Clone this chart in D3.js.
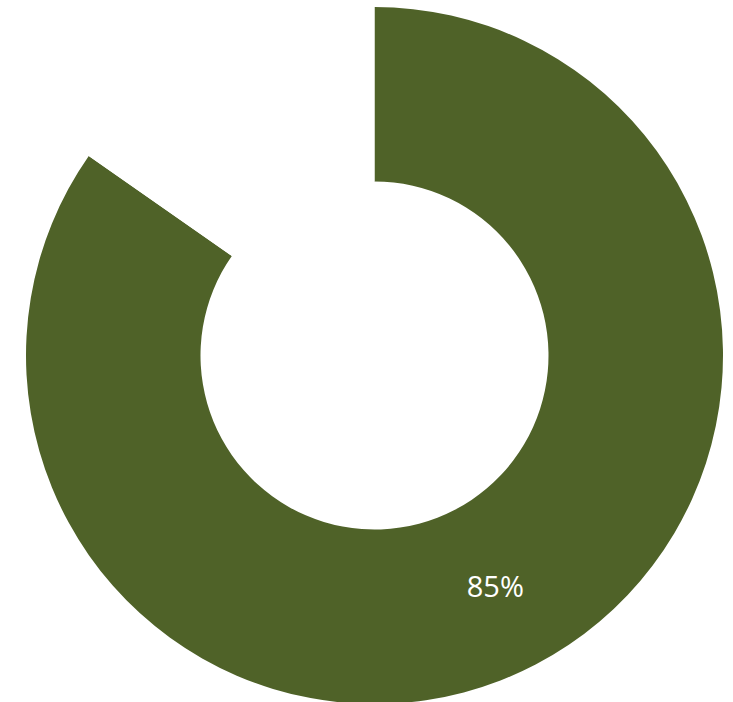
<!DOCTYPE html>
<html lang="en">
<head>
  <meta charset="UTF-8">
  <title>Donut 85%</title>
  <script src="https://d3js.org/d3.v7.min.js"></script>
  <style>
    body { margin: 0; background: #fff; }
    svg { display: block; }
  </style>
</head>
<body>
  <svg id="chart"></svg>
  <script>
    const labels = ["Done", "Remaining"];
    const values = [84.7, 15.3];
    const colors = ["#4F6228", "#FFFFFF"];
    const showLabel = [true, false];

    const width = 733;
    const height = 702;
    const cx = 374.5, cy = 355.5;
    const outerR = 348.5;
    const innerR = 174;

    const svg = d3.select("#chart")
      .attr("width", width)
      .attr("height", height);

    const data = labels.map((l, i) => ({ label: l, value: values[i], color: colors[i], show: showLabel[i] }));

    const pie = d3.pie()
      .sort(null)
      .value(d => d.value);

    const arc = d3.arc()
      .innerRadius(innerR)
      .outerRadius(outerR);

    const g = svg.append("g")
      .attr("transform", `translate(${cx},${cy})`);

    const arcs = pie(data);

    g.selectAll("path")
      .data(arcs)
      .join("path")
      .attr("d", arc)
      .attr("fill", d => d.data.color);

    const total = d3.sum(values);

    g.selectAll("text")
      .data(arcs.filter(d => d.data.show))
      .join("text")
      .attr("transform", d => `translate(${arc.centroid(d)})`)
      .attr("text-anchor", "middle")
      .attr("dy", "0.35em")
      .attr("fill", "#fff")
      .style("font-family", "'Open Sans', sans-serif")
      .style("font-size", "29px")
      .text(d => d3.format(".0%")(d.data.value / total));
  </script>
</body>
</html>
